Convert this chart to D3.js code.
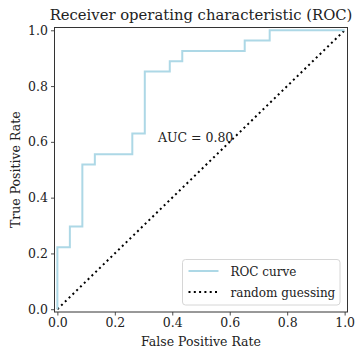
<!DOCTYPE html>
<html>
<head>
<meta charset="utf-8">
<script src="https://cdn.jsdelivr.net/npm/d3@7"></script>
<style>
  body { margin: 0; background: #fff; }
  svg { display: block; }
  text { font-family: "DejaVu Serif", serif; fill: #222; }
</style>
</head>
<body>
<script>
(function(){

    //ROC data (23 negatives, 27 positives)
    var fpr = [0, 0, 1/23, 1/23, 2/23, 2/23, 3/23, 3/23, 6/23, 6/23, 7/23, 7/23, 9/23, 9/23, 10/23, 10/23, 15/23, 15/23, 17/23, 17/23, 1];
    var tpr = [0, 6/27, 6/27, 8/27, 8/27, 14/27, 14/27, 15/27, 15/27, 17/27, 17/27, 23/27, 23/27, 24/27, 24/27, 25/27, 25/27, 26/27, 26/27, 1, 1];
    var diagX = [0, 1];
    var diagY = [0, 1];
    var ticks = [0, 0.2, 0.4, 0.6, 0.8, 1.0];
    var aucLabel = "AUC = 0.80";
    var legendLabels = ["ROC curve", "random guessing"];

    var width = 356, height = 348;
    var margin = {left: 54.5, right: 8.5, top: 27.5, bottom: 36};

    var svg = d3.select("body")
        .append("svg")
        .attr("width", width)
        .attr("height", height);

    var x = d3.scaleLinear()
        .domain([-0.01, 1.01])
        .range([margin.left, width - margin.right]);

    var y = d3.scaleLinear()
        .domain([-0.01, 1.01])
        .range([height - margin.bottom, margin.top]);

    //diagonal
    var line = d3.line()
        .x(function(d){ return x(d[0]); })
        .y(function(d){ return y(d[1]); });

    svg.append("path")
        .datum(d3.zip(diagX, diagY))
        .attr("d", line)
        .attr("fill", "none")
        .attr("stroke", "#000")
        .attr("stroke-width", 2)
        .attr("stroke-dasharray", "2,3.3");

    //roc curve
    svg.append("path")
        .datum(d3.zip(fpr, tpr))
        .attr("d", line)
        .attr("fill", "none")
        .attr("stroke", "lightblue")
        .attr("stroke-width", 2);

    //auc text
    svg.append("text")
        .attr("x", x(0.35))
        .attr("y", y(0.6))
        .attr("font-size", 12.5)
        .text(aucLabel);

    //axes
    var fmt = d3.format(".1f");
    var xAxis = svg.append("g")
        .attr("transform", "translate(0," + (height - margin.bottom) + ")")
        .call(d3.axisBottom(x).tickValues(ticks).tickFormat(fmt).tickSizeOuter(0).tickSize(3.5).tickPadding(3));
    var yAxis = svg.append("g")
        .attr("transform", "translate(" + margin.left + ",0)")
        .call(d3.axisLeft(y).tickValues(ticks).tickFormat(fmt).tickSizeOuter(0).tickSize(3.5).tickPadding(3));

    [xAxis, yAxis].forEach(function(a){
        a.select(".domain").remove();
        a.selectAll("text").attr("font-family", "DejaVu Serif, serif").attr("font-size", 12.5).attr("fill", "#222");
        a.selectAll("line").attr("stroke", "#222").attr("stroke-width", 0.8);
    });

    //frame
    svg.append("rect")
        .attr("x", margin.left)
        .attr("y", margin.top)
        .attr("width", width - margin.left - margin.right)
        .attr("height", height - margin.top - margin.bottom)
        .attr("fill", "none")
        .attr("stroke", "#333")
        .attr("stroke-width", 1);

    //titles
    svg.append("text")
        .attr("x", (margin.left + width - margin.right) / 2)
        .attr("y", 19.5)
        .attr("text-anchor", "middle")
        .attr("font-size", 14.8)
        .text("Receiver operating characteristic (ROC)");

    svg.append("text")
        .attr("x", (margin.left + width - margin.right) / 2)
        .attr("y", 345.5)
        .attr("text-anchor", "middle")
        .attr("font-size", 12.5)
        .text("False Positive Rate");

    svg.append("text")
        .attr("transform", "translate(20," + ((margin.top + height - margin.bottom) / 2) + ") rotate(-90)")
        .attr("text-anchor", "middle")
        .attr("font-size", 12.5)
        .text("True Positive Rate");

    //legend
    var legend = svg.append("g")
        .attr("transform", "translate(182.5,259.5)");

    legend.append("rect")
        .attr("width", 157.5)
        .attr("height", 45.5)
        .attr("rx", 3)
        .attr("fill", "#fff")
        .attr("fill-opacity", 0.8)
        .attr("stroke", "#d6d6d6")
        .attr("stroke-width", 1);

    var rows = legend.selectAll(".legendRow")
        .data(legendLabels)
        .enter()
        .append("g")
        .attr("class", "legendRow")
        .attr("transform", function(d, i){ return "translate(0," + (11.5 + i * 21) + ")"; });

    rows.append("line")
        .attr("x1", 6)
        .attr("x2", 36)
        .attr("stroke", function(d, i){ return i == 0 ? "lightblue" : "#000"; })
        .attr("stroke-width", 2)
        .attr("stroke-dasharray", function(d, i){ return i == 0 ? null : "2,3.3"; });

    rows.append("text")
        .attr("x", 48)
        .attr("y", 5)
        .attr("font-size", 12)
        .text(function(d){ return d; });

})();
</script>
</body>
</html>
